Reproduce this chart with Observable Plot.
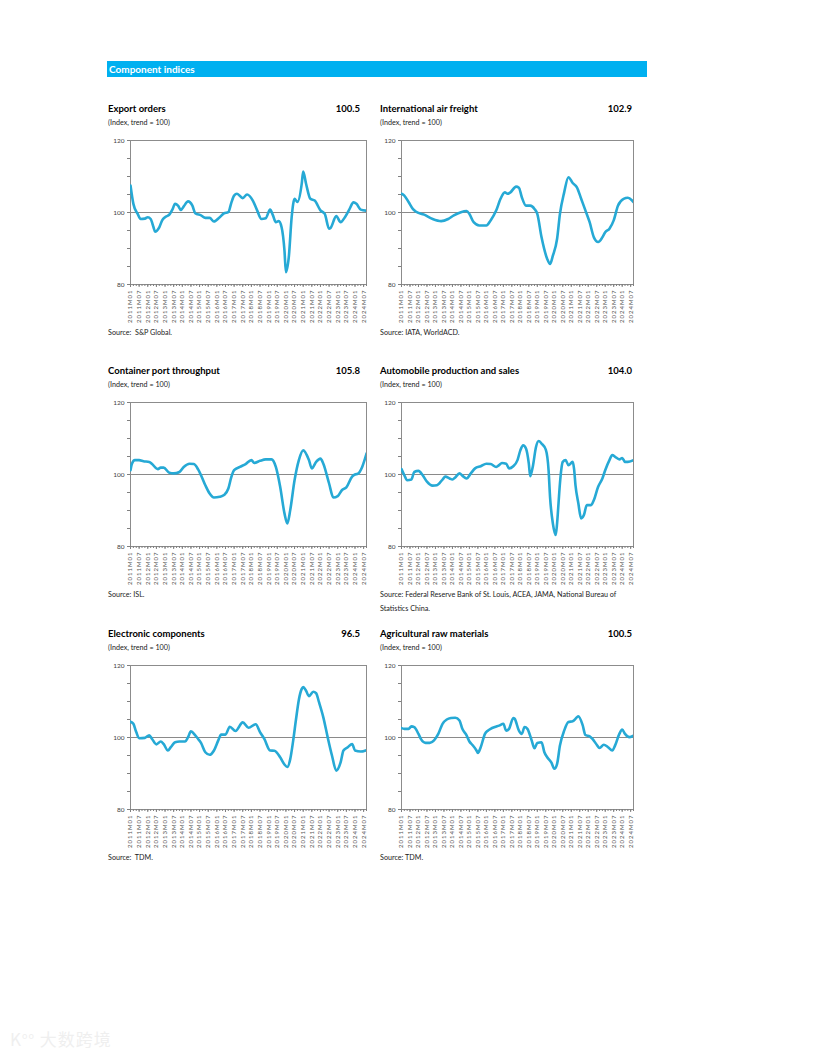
<!DOCTYPE html>
<html><head><meta charset="utf-8">
<script src="https://cdn.jsdelivr.net/npm/d3@7"></script>
<script src="https://cdn.jsdelivr.net/npm/@observablehq/plot@0.6"></script>
<style>
body{margin:0;background:#fff;font-family:Lato,"Open Sans",sans-serif;color:#000;}
#page{position:relative;width:816px;height:1056px;overflow:hidden;}
.bar{position:absolute;left:107px;top:61px;width:540px;height:16px;background:#00b0f0;color:#fff;font-weight:700;font-size:10px;line-height:16px;padding-left:2px;box-sizing:border-box;}
.t{position:absolute;white-space:nowrap;}
.title{font-weight:700;font-size:9.5px;line-height:12px;}
.val{font-weight:700;font-size:9.5px;line-height:12px;text-align:right;width:80px;}
.sub{font-size:7.2px;line-height:10px;color:#222;}
.src{font-size:7.2px;line-height:14px;color:#222;white-space:normal;width:250px;}
.chart{position:absolute;}
.chart g[aria-label="x-axis tick label"] text{letter-spacing:1px;}
.wm{position:absolute;left:10px;top:1026px;font-family:"Noto Sans CJK SC",sans-serif;font-size:17px;color:#efefef;letter-spacing:1px;}
</style>
</head><body><div id="page">
<div class="bar">Component indices</div>
<div class="wm">K<sup style="font-size:9px">oo</sup> 大数跨境</div>
</div>
<script>
// ---- data (monthly index points) ----
const tickLabels = d3.range(0, 163, 6).map(i => `${2011 + Math.floor(i / 12)}M${String(i % 12 + 1).padStart(2, "0")}`);

const exportOrders = [["2011M01",107.5],["2011M03",102.4],["2011M06",99.6],["2011M08",98.2],["2011M11",98.3],["2012M01",98.7],["2012M03",98.2],["2012M05",95.9],["2012M06",94.7],["2012M09",95.9],["2012M11",97.8],["2013M01",98.7],["2013M04",99.4],["2013M06",100.7],["2013M08",102.4],["2013M10",101.9],["2013M12",100.7],["2014M02",101.7],["2014M05",103.1],["2014M08",101.9],["2014M10",99.8],["2015M02",99.2],["2015M05",98.5],["2015M08",98.5],["2015M11",97.5],["2016M03",98.7],["2016M06",99.8],["2016M09",100.1],["2016M11",102.6],["2017M01",104.7],["2017M03",105.2],["2017M07",104.0],["2017M10",105.0],["2018M02",103.3],["2018M05",100.6],["2018M08",98.2],["2018M11",98.4],["2019M02",100.8],["2019M04",99.2],["2019M06",97.3],["2019M08",97.6],["2019M10",95.9],["2019M12",89.4],["2020M01",83.4],["2020M03",87.6],["2020M05",98.7],["2020M07",103.8],["2020M09",102.9],["2020M12",108.0],["2021M01",111.4],["2021M03",108.0],["2021M06",103.8],["2021M09",103.3],["2022M01",100.6],["2022M04",99.6],["2022M07",95.5],["2022M08",95.7],["2022M12",99.0],["2023M03",97.3],["2023M06",98.7],["2023M09",100.8],["2023M12",102.8],["2024M02",102.4],["2024M05",100.8],["2024M09",100.5]];

const airFreight = [["2011M01",105.2],["2011M03",104.7],["2011M06",102.9],["2011M09",101.0],["2011M11",100.3],["2012M05",99.4],["2012M11",98.2],["2013M05",97.6],["2013M10",98.2],["2014M02",99.2],["2014M07",100.1],["2014M11",100.4],["2015M01",99.6],["2015M04",97.3],["2015M08",96.4],["2016M01",96.4],["2016M04",97.8],["2016M08",100.6],["2016M11",103.8],["2017M02",105.6],["2017M04",105.2],["2017M06",105.6],["2017M10",107.2],["2017M12",106.9],["2018M02",104.3],["2018M05",101.9],["2018M08",101.9],["2018M11",101.0],["2019M01",99.6],["2019M04",93.1],["2019M08",87.1],["2019M10",85.7],["2019M12",88.0],["2020M03",92.7],["2020M05",99.6],["2020M08",105.6],["2020M11",109.8],["2021M02",108.2],["2021M05",107.0],["2021M08",103.8],["2021M11",100.6],["2022M02",97.3],["2022M05",93.1],["2022M08",91.8],["2022M11",93.1],["2023M01",94.5],["2023M04",95.5],["2023M07",97.8],["2023M10",101.9],["2024M02",103.8],["2024M05",104.1],["2024M09",102.9]];

const containerPort = [["2011M01",101.2],["2011M02",103.0],["2011M04",104.0],["2011M07",104.0],["2011M10",103.7],["2012M02",103.5],["2012M04",102.9],["2012M08",101.5],["2012M10",101.9],["2012M12",101.9],["2013M04",100.5],["2013M07",100.3],["2013M11",100.7],["2014M02",102.1],["2014M06",103.0],["2014M09",102.9],["2014M12",101.4],["2015M02",99.8],["2015M05",97.0],["2015M08",94.7],["2015M11",93.6],["2016M03",93.8],["2016M06",94.3],["2016M09",96.1],["2016M11",99.2],["2017M01",101.2],["2017M05",102.1],["2017M09",102.9],["2018M01",104.0],["2018M03",103.2],["2018M07",103.8],["2018M11",104.2],["2019M03",104.2],["2019M06",102.1],["2019M09",96.6],["2019M12",89.2],["2020M02",86.4],["2020M04",90.1],["2020M07",98.4],["2020M10",104.0],["2021M01",106.7],["2021M05",104.0],["2021M07",101.7],["2021M10",103.5],["2022M01",104.4],["2022M03",103.0],["2022M07",97.5],["2022M10",93.6],["2023M01",94.0],["2023M04",95.7],["2023M07",96.4],["2023M11",99.4],["2024M01",100.0],["2024M03",100.2],["2024M06",102.1],["2024M09",105.8]];

const autoProduction = [["2011M01",101.5],["2011M03",99.8],["2011M05",98.4],["2011M08",98.6],["2011M10",100.7],["2012M01",101.0],["2012M04",99.8],["2012M07",98.0],["2012M11",96.9],["2013M02",97.0],["2013M06",98.6],["2013M08",99.4],["2013M11",98.9],["2014M01",98.6],["2014M03",99.2],["2014M06",100.3],["2014M08",99.7],["2014M11",98.9],["2015M02",100.3],["2015M05",101.7],["2015M09",102.3],["2016M01",103.0],["2016M04",102.9],["2016M08",102.1],["2016M10",102.6],["2016M12",103.2],["2017M03",103.0],["2017M05",101.7],["2017M08",102.3],["2017M11",104.0],["2018M01",106.7],["2018M03",108.1],["2018M05",107.2],["2018M07",103.0],["2018M08",99.5],["2018M10",102.6],["2018M12",107.5],["2019M02",109.3],["2019M04",108.6],["2019M07",106.9],["2019M09",101.0],["2019M10",93.8],["2019M12",86.4],["2020M02",83.2],["2020M03",86.5],["2020M04",92.0],["2020M05",97.5],["2020M06",101.5],["2020M07",103.5],["2020M09",104.0],["2020M11",102.6],["2021M02",103.5],["2021M03",101.5],["2021M04",97.0],["2021M06",92.0],["2021M08",87.8],["2021M10",88.8],["2021M12",91.5],["2022M03",91.5],["2022M05",92.9],["2022M08",96.6],["2022M11",98.9],["2023M01",101.2],["2023M04",104.0],["2023M06",105.4],["2023M08",104.9],["2023M11",104.2],["2024M01",104.6],["2024M03",103.5],["2024M05",103.5],["2024M09",104.0]];

const electronics = [["2011M01",104.4],["2011M03",103.8],["2011M05",101.5],["2011M07",99.8],["2011M11",99.9],["2012M02",100.6],["2012M04",99.6],["2012M07",98.1],["2012M10",98.9],["2012M12",98.2],["2013M03",96.4],["2013M05",97.3],["2013M08",98.7],["2013M11",98.9],["2014M03",98.9],["2014M05",100.1],["2014M07",101.7],["2014M10",100.6],["2014M12",99.6],["2015M02",98.5],["2015M05",95.9],["2015M08",95.2],["2015M11",96.4],["2016M02",99.2],["2016M04",100.8],["2016M07",100.8],["2016M10",103.0],["2017M02",101.8],["2017M07",104.2],["2017M11",102.7],["2018M04",103.7],["2018M07",101.5],["2018M10",99.6],["2019M02",96.4],["2019M05",96.3],["2019M09",94.5],["2019M12",92.5],["2020M02",91.8],["2020M04",94.0],["2020M06",99.0],["2020M08",105.0],["2020M10",110.5],["2020M12",113.5],["2021M01",114.0],["2021M03",113.0],["2021M05",111.5],["2021M08",112.7],["2021M10",112.3],["2021M12",109.8],["2022M03",105.6],["2022M06",100.1],["2022M09",95.0],["2022M12",90.8],["2023M03",93.1],["2023M05",96.4],["2023M08",97.3],["2023M11",98.2],["2024M01",96.4],["2024M05",96.1],["2024M09",96.5]];

const agriRaw = [["2011M01",102.6],["2011M03",102.4],["2011M06",102.4],["2011M08",103.1],["2011M10",102.9],["2012M01",101.0],["2012M03",99.4],["2012M06",98.5],["2012M09",98.5],["2012M12",99.2],["2013M03",101.0],["2013M06",103.8],["2013M09",105.0],["2013M12",105.4],["2014M03",105.5],["2014M06",104.7],["2014M08",102.4],["2014M11",100.6],["2015M01",98.9],["2015M03",98.0],["2015M06",96.4],["2015M07",95.7],["2015M09",97.3],["2015M12",101.0],["2016M02",101.9],["2016M04",102.4],["2016M07",102.9],["2016M10",103.3],["2017M01",103.8],["2017M03",101.9],["2017M05",102.4],["2017M08",105.4],["2017M09",105.2],["2017M12",101.9],["2018M02",101.0],["2018M04",102.9],["2018M06",102.4],["2018M09",99.2],["2018M11",97.0],["2019M01",98.5],["2019M04",98.7],["2019M06",95.9],["2019M08",94.5],["2019M11",93.0],["2020M01",91.3],["2020M03",92.7],["2020M05",97.8],["2020M08",101.9],["2020M11",104.3],["2021M02",104.5],["2021M05",105.6],["2021M06",105.9],["2021M09",103.5],["2021M11",100.7],["2022M02",100.3],["2022M04",99.6],["2022M07",98.0],["2022M09",97.1],["2022M12",98.0],["2023M03",97.3],["2023M06",96.4],["2023M08",97.8],["2023M11",101.0],["2024M01",102.2],["2024M03",101.0],["2024M06",100.1],["2024M09",100.5]];

const panelTitles = ["Export orders","International air freight","Container port throughput","Automobile production and sales","Electronic components","Agricultural raw materials"];
const latestValues = ["100.5","102.9","105.8","104.0","96.5","100.5"];
const sources = ["Source:\u00a0 S&P Global.","Source: IATA, WorldACD.","Source: ISL.","Source: Federal Reserve Bank of St. Louis, ACEA, JAMA, National Bureau of Statistics China.","Source:\u00a0 TDM.","Source: TDM."];
const seriesList = [exportOrders, airFreight, containerPort, autoProduction, electronics, agriRaw];

// ---- layout ----
const page = document.getElementById("page");
const cols = [{text: 108, valRight: 360, svgLeft: 100, width: 270}, {text: 380, valRight: 632, svgLeft: 371, width: 266}];
const rowTops = [140, 402, 665];
const lineColor = "#26a9d5";
const mIdx = s => (+s.slice(0, 4) - 2011) * 12 + (+s.slice(5) - 1);

function addText(cls, html, left, top) {
  const d = document.createElement("div");
  d.className = "t " + cls;
  d.innerHTML = html;
  d.style.left = left + "px";
  d.style.top = top + "px";
  page.appendChild(d);
  return d;
}

seriesList.forEach((series, k) => {
  const c = cols[k % 2], top = rowTops[Math.floor(k / 2)];
  addText("title", panelTitles[k], c.text, top - 37);
  addText("val", latestValues[k], c.valRight - 80, top - 37);
  addText("sub", "(Index, trend = 100)", c.text, top - 22);
  addText("src", sources[k], c.text, top + 186);
  const data = series.map(([m, v]) => ({i: mIdx(m), v}));
  const chart = Plot.plot({
    width: c.width, height: 197,
    marginTop: 8, marginBottom: 45, marginLeft: 30, marginRight: 4,
    x: {domain: [0, 164], axis: null},
    y: {domain: [80, 120], axis: null},
    style: {fontFamily: "Lato, 'Open Sans', sans-serif", fontSize: "6.5px", color: "#444", background: "transparent", overflow: "visible"},
    marks: [
      Plot.ruleY([100], {stroke: "#8a8a8a", strokeWidth: 1}),
      Plot.frame({stroke: "#8c8c8c"}),
      Plot.axisY({ticks: d3.range(80, 121, 5), tickSize: 3, tickPadding: 3, label: null, tickFormat: d => d % 20 === 0 ? String(d) : "", stroke: "#808080"}),
      Plot.axisX({ticks: d3.range(0, 165, 2), tickSize: 2, label: null, tickFormat: () => "", stroke: "#808080"}),
      Plot.axisX({ticks: d3.range(0, 163, 6), tickSize: 3, tickPadding: 2, label: null, tickRotate: -90, fontSize: 6, fill: "#555", tickFormat: i => tickLabels[i / 6], stroke: "#808080"}),
      Plot.line(data, {x: "i", y: "v", stroke: lineColor, strokeWidth: 2.6, curve: "monotone-x", clip: true})
    ]
  });
  chart.classList.add("chart");
  chart.style.left = c.svgLeft + "px";
  chart.style.top = (top - 8) + "px";
  page.appendChild(chart);
});
</script>
</body></html>
